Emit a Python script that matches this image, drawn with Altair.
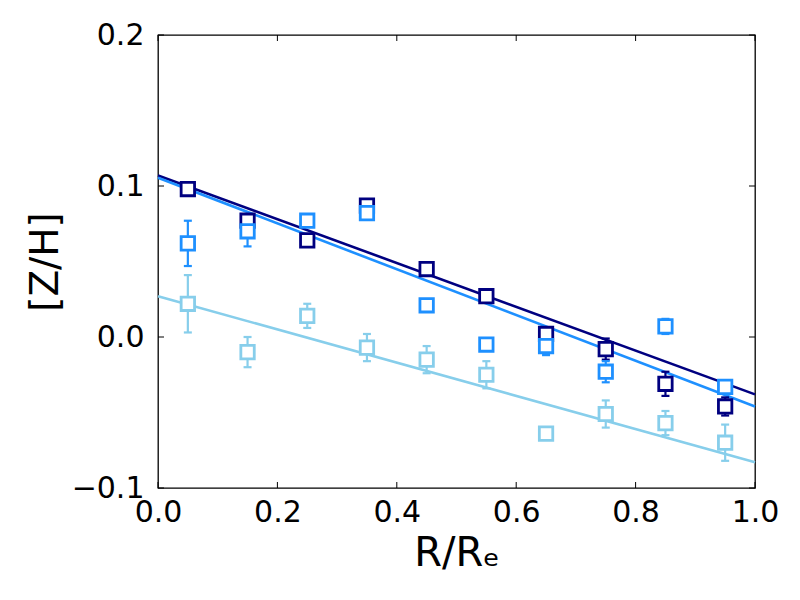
import altair as alt
import pandas as pd

# radial bins
r = [0.05, 0.15, 0.25, 0.35, 0.45, 0.55, 0.65, 0.75, 0.85, 0.95]

# series values and errors
navy_z = [0.098, 0.077, 0.064, 0.087, 0.045, 0.027, 0.002, -0.008, -0.031, -0.046]
navy_e = [0.003, 0.004, 0.003, 0.003, 0.003, 0.003, 0.004, 0.007, 0.008, 0.006]
dodger_z = [0.062, 0.070, 0.077, 0.082, 0.021, -0.005, -0.006, -0.023, 0.007, -0.033]
dodger_e = [0.015, 0.010, 0.003, 0.003, 0.003, 0.002, 0.006, 0.007, 0.005, 0.004]
sky_z = [0.022, -0.010, 0.014, -0.007, -0.015, -0.025, -0.064, -0.051, -0.057, -0.070]
sky_e = [0.019, 0.010, 0.008, 0.009, 0.009, 0.009, 0.004, 0.009, 0.008, 0.012]

# fitted lines (endpoints at R/Re = 0 and 1)
line_x = [0.0, 1.0]
navy_line = [0.107, -0.038]
dodger_line = [0.1055, -0.046]
sky_line = [0.027, -0.083]

# tick labels
x_ticks = [0.0, 0.2, 0.4, 0.6, 0.8, 1.0]
y_ticks = [-0.1, 0.0, 0.1, 0.2]

series = ["navy", "dodger", "sky"]
colors = ["#000080", "#1E90FF", "#87CEEB"]

rows = []
for name, zs, es in [("navy", navy_z, navy_e), ("dodger", dodger_z, dodger_e), ("sky", sky_z, sky_e)]:
    for i, (x, z, e) in enumerate(zip(r, zs, es)):
        rows.append({"r": x, "z": z, "lo": z - e, "hi": z + e, "s": name, "order": series.index(name)})
pts = pd.DataFrame(rows)

lrows = []
for name, ys in [("navy", navy_line), ("dodger", dodger_line), ("sky", sky_line)]:
    for x, y in zip(line_x, ys):
        lrows.append({"r": x, "z": y, "s": name})
lines_df = pd.DataFrame(lrows)

W, H = 597, 453
FONT = "DejaVu Sans"

xs = alt.Scale(domain=[0, 1], nice=False, zero=False)
ys = alt.Scale(domain=[-0.1, 0.2], nice=False, zero=False)
cs = alt.Scale(domain=series, range=colors)

xaxis = alt.Axis(values=x_ticks, format=".1f", title="R/Rₑ", grid=False, domain=False, ticks=False,
                 labelFontSize=30, labelFont=FONT, labelColor="black", labelPadding=9,
                 titleFontSize=40, titleFont=FONT, titleFontWeight="normal", titleColor="black",
                 titlePadding=6, labelFlush=False, labelOverlap=False)
yaxis = alt.Axis(values=y_ticks, format=".1f", title="[Z/H]", grid=False, domain=False, ticks=False,
                 labelFontSize=30, labelFont=FONT, labelColor="black", labelPadding=14,
                 titleFontSize=39, titleFont=FONT, titleFontWeight="normal", titleColor="black",
                 titlePadding=6, labelFlush=False, labelOverlap=False)

lines = alt.Chart(lines_df).mark_line(strokeWidth=2.6).encode(
    x=alt.X("r:Q", scale=xs, axis=xaxis),
    y=alt.Y("z:Q", scale=ys, axis=yaxis),
    color=alt.Color("s:N", scale=cs, legend=None),
    detail="s:N",
)

err = alt.Chart(pts).mark_rule(strokeWidth=2.2).encode(
    x="r:Q", y="lo:Q", y2="hi:Q",
    color=alt.Color("s:N", scale=cs, legend=None),
)
cap_lo = alt.Chart(pts).mark_rule(strokeWidth=2.2, xOffset=-4, x2Offset=4).encode(
    x="r:Q", x2="r:Q", y="lo:Q",
    color=alt.Color("s:N", scale=cs, legend=None),
)
cap_hi = alt.Chart(pts).mark_rule(strokeWidth=2.2, xOffset=-4, x2Offset=4).encode(
    x="r:Q", x2="r:Q", y="hi:Q",
    color=alt.Color("s:N", scale=cs, legend=None),
)

squares = alt.Chart(pts).mark_point(shape="square", size=180, fill="white", fillOpacity=1,
                                    strokeWidth=2.8, opacity=1).encode(
    x="r:Q", y="z:Q",
    stroke=alt.Stroke("s:N", scale=cs, legend=None),
    order="order:Q",
)

xt_df = pd.DataFrame({"t": x_ticks})
yt_df = pd.DataFrame({"t": y_ticks})
tick_len = 6
xb = alt.Chart(xt_df).mark_rule(color="black", strokeWidth=1).encode(
    x="t:Q", y=alt.value(H), y2=alt.value(H - tick_len))
xtop = alt.Chart(xt_df).mark_rule(color="black", strokeWidth=1).encode(
    x="t:Q", y=alt.value(0), y2=alt.value(tick_len))
yl = alt.Chart(yt_df).mark_rule(color="black", strokeWidth=1).encode(
    y="t:Q", x=alt.value(0), x2=alt.value(tick_len))
yr = alt.Chart(yt_df).mark_rule(color="black", strokeWidth=1).encode(
    y="t:Q", x=alt.value(W), x2=alt.value(W - tick_len))

chart = alt.layer(lines, err, cap_lo, cap_hi, squares, xb, xtop, yl, yr).properties(
    width=W, height=H,
    autosize=alt.AutoSizeParams(type="none"),
    padding={"left": 150, "top": 27, "right": 30, "bottom": 90},
    background="white",
).configure_view(stroke="black", strokeWidth=1.3)

chart.save("out.html", embed_options={"renderer": "svg", "actions": False})
